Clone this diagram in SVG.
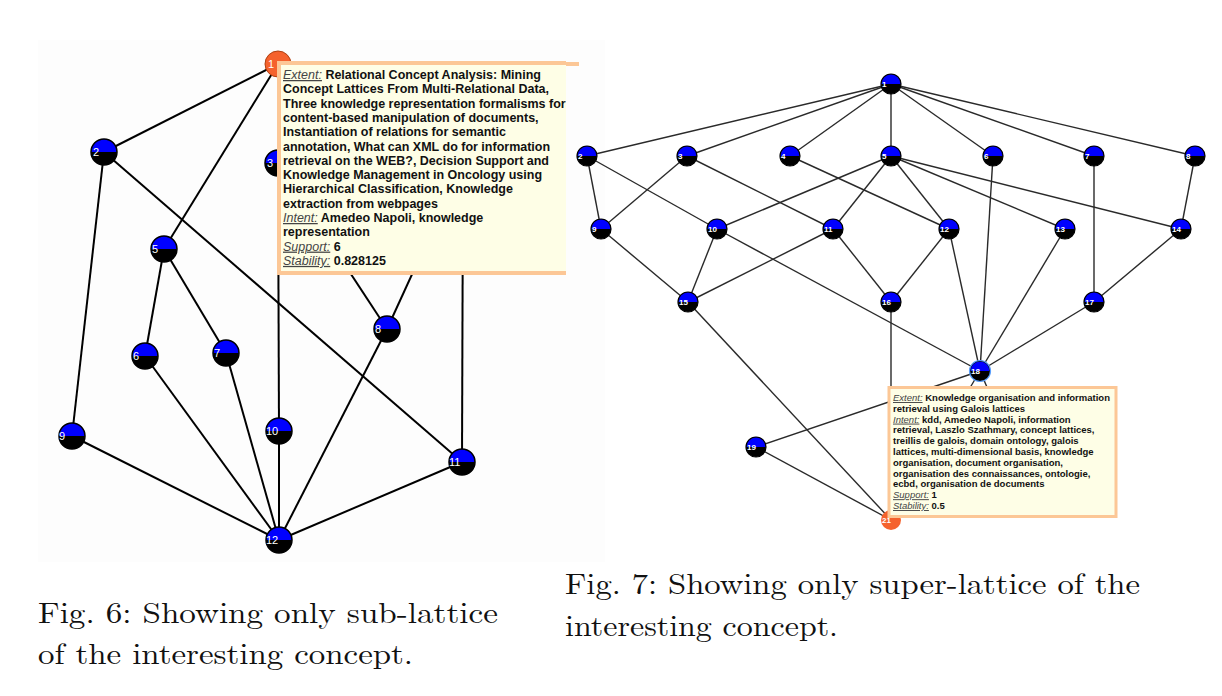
<svg xmlns="http://www.w3.org/2000/svg" xmlns:xlink="http://www.w3.org/1999/xlink" width="1222" height="696" viewBox="0 0 1222 696">
<style>
.eL{stroke:#000;stroke-width:2;fill:none}
.eR{stroke:#2a2a2a;stroke-width:1.4;fill:none}
.lL{font-family:"Liberation Sans",Arial,sans-serif;font-size:11px;fill:#fff}
.lR{font-family:"Liberation Sans",Arial,sans-serif;font-size:8px;font-weight:bold;fill:#fff}
.tt{font-family:"Liberation Sans",Arial,sans-serif;font-weight:bold;fill:#111}
.k{font-weight:normal;font-style:italic;text-decoration:underline;fill:#444}
.cap{font-family:"Latin Modern Roman","Liberation Serif","Times New Roman",serif;font-size:29px;fill:#111}
.tip{fill:#fefee6;stroke:#fcc796}
</style>
<defs>
<g id="nL"><circle r="13" fill="#000"/><path d="M-13 0A13 13 0 0 1 13 0Z" fill="#0000ff"/><circle r="13" fill="none" stroke="#000" stroke-width="1.5"/></g>
<g id="nR"><circle r="10" fill="#000"/><path d="M-10 0A10 10 0 0 1 10 0Z" fill="#0000ff"/><circle r="10" fill="none" stroke="#000" stroke-width="1.2"/></g>
<clipPath id="cl"><rect x="270" y="55" width="296" height="225"/></clipPath>
</defs>
<rect width="1222" height="696" fill="#fff"/>
<rect x="38" y="40" width="567" height="522" fill="#fdfdfd"/>

<g id="connectors-left">
<line class="eL" x1="278" y1="64" x2="104" y2="152"/>
<line class="eL" x1="278" y1="64" x2="164" y2="249"/>
<line class="eL" x1="278" y1="64" x2="278" y2="163"/>
<line class="eL" x1="278" y1="64" x2="463" y2="163"/>
<line class="eL" x1="104" y1="152" x2="72" y2="436"/>
<line class="eL" x1="104" y1="152" x2="462" y2="462"/>
<line class="eL" x1="278" y1="163" x2="279" y2="431"/>
<line class="eL" x1="278" y1="163" x2="387" y2="329"/>
<line class="eL" x1="463" y1="163" x2="387" y2="329"/>
<line class="eL" x1="463" y1="163" x2="462" y2="462"/>
<line class="eL" x1="164" y1="249" x2="145" y2="356"/>
<line class="eL" x1="164" y1="249" x2="226" y2="353"/>
<line class="eL" x1="145" y1="356" x2="279" y2="540"/>
<line class="eL" x1="226" y1="353" x2="279" y2="540"/>
<line class="eL" x1="387" y1="329" x2="279" y2="540"/>
<line class="eL" x1="72" y1="436" x2="279" y2="540"/>
<line class="eL" x1="279" y1="431" x2="279" y2="540"/>
<line class="eL" x1="462" y1="462" x2="279" y2="540"/>
</g>

<g id="L1" transform="translate(278,64)"><circle r="13" fill="#f5622d" stroke="#b04010" stroke-width="1"/><text class="lL" x="-10" y="4">1</text></g>
<g id="L2" transform="translate(104,152)"><use xlink:href="#nL"/><text class="lL" x="-11" y="4">2</text></g>
<g id="L3" transform="translate(278,163)"><use xlink:href="#nL"/><text class="lL" x="-11" y="4">3</text></g>
<g id="L5" transform="translate(164,249)"><use xlink:href="#nL"/><text class="lL" x="-12" y="4">5</text></g>
<g id="L6" transform="translate(145,356)"><use xlink:href="#nL"/><text class="lL" x="-12" y="4">6</text></g>
<g id="L7" transform="translate(226,353)"><use xlink:href="#nL"/><text class="lL" x="-12" y="4">7</text></g>
<g id="L8" transform="translate(387,329)"><use xlink:href="#nL"/><text class="lL" x="-12" y="4">8</text></g>
<g id="L9" transform="translate(72,436)"><use xlink:href="#nL"/><text class="lL" x="-13" y="4">9</text></g>
<g id="L10" transform="translate(279,431)"><use xlink:href="#nL"/><text class="lL" x="-13" y="4">10</text></g>
<g id="L11" transform="translate(462,462)"><use xlink:href="#nL"/><text class="lL" x="-13" y="4">11</text></g>
<g id="L12" transform="translate(279,540)"><use xlink:href="#nL"/><text class="lL" x="-13" y="4">12</text></g>

<g id="tooltip-left">
<rect x="279" y="62" width="300" height="4" fill="#fcc796"/>
<g clip-path="url(#cl)">
<rect class="tip" x="279" y="63" width="300" height="210" stroke-width="4"/>
<text class="tt" font-size="12.5">
<tspan x="283" y="79"><tspan class="k">Extent:</tspan> Relational Concept Analysis: Mining</tspan>
<tspan x="283" y="93.3">Concept Lattices From Multi-Relational Data,</tspan>
<tspan x="283" y="107.6">Three knowledge representation formalisms for</tspan>
<tspan x="283" y="121.9">content-based manipulation of documents,</tspan>
<tspan x="283" y="136.2">Instantiation of relations for semantic</tspan>
<tspan x="283" y="150.5">annotation, What can XML do for information</tspan>
<tspan x="283" y="164.8">retrieval on the WEB?, Decision Support and</tspan>
<tspan x="283" y="179.1">Knowledge Management in Oncology using</tspan>
<tspan x="283" y="193.4">Hierarchical Classification, Knowledge</tspan>
<tspan x="283" y="207.7">extraction from webpages</tspan>
<tspan x="283" y="222"><tspan class="k">Intent:</tspan> Amedeo Napoli, knowledge</tspan>
<tspan x="283" y="236.3">representation</tspan>
<tspan x="283" y="250.6"><tspan class="k">Support:</tspan> 6</tspan>
<tspan x="283" y="264.9"><tspan class="k">Stability:</tspan> 0.828125</tspan>
</text>
</g>
</g>

<g id="connectors-right">
<line class="eR" x1="891" y1="84" x2="587" y2="156"/>
<line class="eR" x1="891" y1="84" x2="687" y2="156"/>
<line class="eR" x1="891" y1="84" x2="790" y2="156"/>
<line class="eR" x1="891" y1="84" x2="891" y2="156"/>
<line class="eR" x1="891" y1="84" x2="993" y2="156"/>
<line class="eR" x1="891" y1="84" x2="1094" y2="156"/>
<line class="eR" x1="891" y1="84" x2="1195" y2="156"/>
<line class="eR" x1="587" y1="156" x2="601" y2="229"/>
<line class="eR" x1="587" y1="156" x2="717" y2="229"/>
<line class="eR" x1="687" y1="156" x2="601" y2="229"/>
<line class="eR" x1="687" y1="156" x2="833" y2="229"/>
<line class="eR" x1="790" y1="156" x2="949" y2="229"/>
<line class="eR" x1="891" y1="156" x2="717" y2="229"/>
<line class="eR" x1="891" y1="156" x2="833" y2="229"/>
<line class="eR" x1="891" y1="156" x2="949" y2="229"/>
<line class="eR" x1="891" y1="156" x2="1065" y2="229"/>
<line class="eR" x1="891" y1="156" x2="1181" y2="229"/>
<line class="eR" x1="993" y1="156" x2="980" y2="371"/>
<line class="eR" x1="1094" y1="156" x2="1094" y2="302"/>
<line class="eR" x1="1195" y1="156" x2="1181" y2="229"/>
<line class="eR" x1="601" y1="229" x2="688" y2="302"/>
<line class="eR" x1="717" y1="229" x2="688" y2="302"/>
<line class="eR" x1="717" y1="229" x2="980" y2="371"/>
<line class="eR" x1="833" y1="229" x2="688" y2="302"/>
<line class="eR" x1="833" y1="229" x2="891" y2="302"/>
<line class="eR" x1="949" y1="229" x2="891" y2="302"/>
<line class="eR" x1="949" y1="229" x2="980" y2="371"/>
<line class="eR" x1="1065" y1="229" x2="980" y2="371"/>
<line class="eR" x1="1181" y1="229" x2="1094" y2="302"/>
<line class="eR" x1="1094" y1="302" x2="980" y2="371"/>
<line class="eR" x1="688" y1="302" x2="891" y2="520"/>
<line class="eR" x1="891" y1="302" x2="891" y2="520"/>
<line class="eR" x1="980" y1="371" x2="756" y2="447"/>
<line class="eR" x1="980" y1="371" x2="891" y2="520"/>
<line class="eR" x1="980" y1="371" x2="1010" y2="440"/>
<line class="eR" x1="756" y1="447" x2="891" y2="520"/>
</g>

<g id="R1" transform="translate(891,84)"><use xlink:href="#nR"/><text class="lR" x="-9" y="3">1</text></g>
<g id="R2" transform="translate(587,156)"><use xlink:href="#nR"/><text class="lR" x="-9" y="3">2</text></g>
<g id="R3" transform="translate(687,156)"><use xlink:href="#nR"/><text class="lR" x="-9" y="3">3</text></g>
<g id="R4" transform="translate(790,156)"><use xlink:href="#nR"/><text class="lR" x="-9" y="3">4</text></g>
<g id="R5" transform="translate(891,156)"><use xlink:href="#nR"/><text class="lR" x="-9" y="3">5</text></g>
<g id="R6" transform="translate(993,156)"><use xlink:href="#nR"/><text class="lR" x="-9" y="3">6</text></g>
<g id="R7" transform="translate(1094,156)"><use xlink:href="#nR"/><text class="lR" x="-9" y="3">7</text></g>
<g id="R8" transform="translate(1195,156)"><use xlink:href="#nR"/><text class="lR" x="-9" y="3">8</text></g>
<g id="R9" transform="translate(601,229)"><use xlink:href="#nR"/><text class="lR" x="-9" y="3">9</text></g>
<g id="R10" transform="translate(717,229)"><use xlink:href="#nR"/><text class="lR" x="-9" y="3">10</text></g>
<g id="R11" transform="translate(833,229)"><use xlink:href="#nR"/><text class="lR" x="-9" y="3">11</text></g>
<g id="R12" transform="translate(949,229)"><use xlink:href="#nR"/><text class="lR" x="-9" y="3">12</text></g>
<g id="R13" transform="translate(1065,229)"><use xlink:href="#nR"/><text class="lR" x="-9" y="3">13</text></g>
<g id="R14" transform="translate(1181,229)"><use xlink:href="#nR"/><text class="lR" x="-9" y="3">14</text></g>
<g id="R15" transform="translate(688,302)"><use xlink:href="#nR"/><text class="lR" x="-9" y="3">15</text></g>
<g id="R16" transform="translate(891,302)"><use xlink:href="#nR"/><text class="lR" x="-9" y="3">16</text></g>
<g id="R17" transform="translate(1094,302)"><use xlink:href="#nR"/><text class="lR" x="-9" y="3">17</text></g>
<g id="R18" transform="translate(980,371)"><use xlink:href="#nR"/><circle r="10.5" fill="none" stroke="#5aa0ff" stroke-width="1.2"/><text class="lR" x="-9" y="3">18</text></g>
<g id="R19" transform="translate(756,447)"><use xlink:href="#nR"/><text class="lR" x="-9" y="3">19</text></g>
<g id="R21" transform="translate(891,520)"><circle r="10" fill="#f5622d"/><text class="lR" x="-9" y="3">21</text></g>

<g id="tooltip-right">
<rect class="tip" x="889" y="387.5" width="227" height="129" stroke-width="3"/>
<text class="tt" font-size="9.5">
<tspan x="893" y="401"><tspan class="k">Extent:</tspan> Knowledge organisation and information</tspan>
<tspan x="893" y="411.8">retrieval using Galois lattices</tspan>
<tspan x="893" y="422.6"><tspan class="k">Intent:</tspan> kdd, Amedeo Napoli, information</tspan>
<tspan x="893" y="433.4">retrieval, Laszlo Szathmary, concept lattices,</tspan>
<tspan x="893" y="444.2">treillis de galois, domain ontology, galois</tspan>
<tspan x="893" y="455">lattices, multi-dimensional basis, knowledge</tspan>
<tspan x="893" y="465.8">organisation, document organisation,</tspan>
<tspan x="893" y="476.6">organisation des connaissances, ontologie,</tspan>
<tspan x="893" y="487.4">ecbd, organisation de documents</tspan>
<tspan x="893" y="498.2"><tspan class="k">Support:</tspan> 1</tspan>
<tspan x="893" y="509"><tspan class="k">Stability:</tspan> 0.5</tspan>
</text>
</g>

<g id="captions">
<text class="cap" x="38" y="623" textLength="460" lengthAdjust="spacingAndGlyphs">Fig. 6: Showing only sub-lattice</text>
<text class="cap" x="38" y="664" textLength="375" lengthAdjust="spacingAndGlyphs">of the interesting concept.</text>
<text class="cap" x="565" y="594" textLength="575" lengthAdjust="spacingAndGlyphs">Fig. 7: Showing only super-lattice of the</text>
<text class="cap" x="565" y="636" textLength="273" lengthAdjust="spacingAndGlyphs">interesting concept.</text>
</g>
</svg>
